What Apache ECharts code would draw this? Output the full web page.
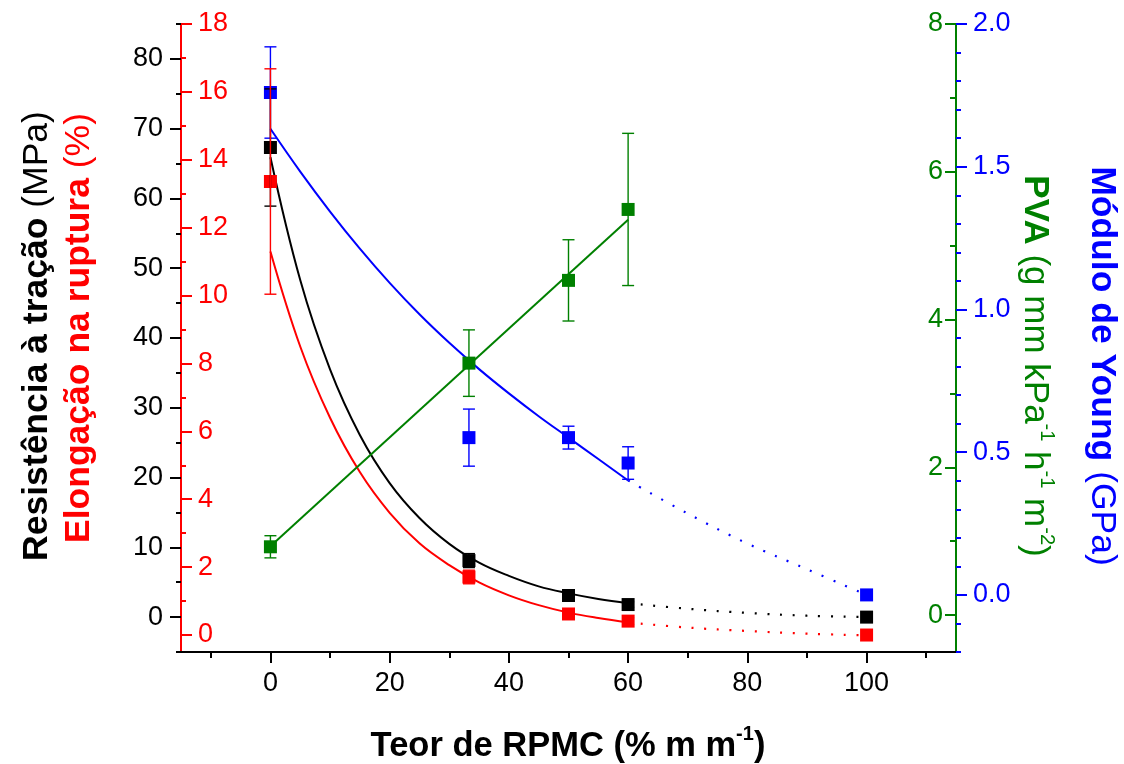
<!DOCTYPE html>
<html><head><meta charset="utf-8">
<script src="https://cdn.jsdelivr.net/npm/echarts@6/dist/echarts.min.js"></script>
<style>html,body{margin:0;padding:0;background:#fff}#c{width:1124px;height:764px}</style>
</head><body><div id="c"></div>
<script>
// ---- data ----
const xPts = [0, 33.3, 50, 60, 100];
const tensile = [67.3, 8.1, 3.1, 1.8, 0.0];
const tensileErr = [8.4, 1.0, 0.5, 0.4, 0];
const elong = [13.36, 1.71, 0.62, 0.41, 0.0];
const elongErr = [3.32, 0.2, 0.1, 0.1, 0];
const young = [1.76, 0.551, 0.551, 0.462, 0.0];
const youngErr = [0.16, 0.10, 0.04, 0.057, 0];
const pvaX = [0, 33.3, 50, 60];
const pva = [0.924, 3.41, 4.53, 5.49];
const pvaErr = [0.15, 0.45, 0.55, 1.03];
// fitted curves
const fitX = [0, 5, 10, 15, 20, 25, 30, 35, 40, 45, 50, 55, 60];
const tensileFit = [65.9, 48.3, 35.5, 26.1, 19.2, 14.2, 10.5, 7.8, 5.9, 4.4, 3.4, 2.6, 2.0];
const elongFit = [11.3, 8.5, 6.4, 4.8, 3.6, 2.7, 2.06, 1.55, 1.17, 0.88, 0.66, 0.50, 0.37];
const youngFit = [1.633, 1.483, 1.343, 1.213, 1.093, 0.983, 0.883, 0.791, 0.706, 0.626, 0.551, 0.476, 0.401];
const pvaFitX = [0, 60];
const pvaFit = [0.93, 5.35];
// dotted extrapolations
const dotX = [60, 70, 80, 90, 100];
const tensileDot = [2.0, 1.2, 0.6, 0.2, 0.0];
const elongDot = [0.37, 0.22, 0.12, 0.04, -0.01];
const youngDot = [0.401, 0.285, 0.18, 0.09, 0.0];
// ticks
const xMajor = [0, 20, 40, 60, 80, 100];
const xMinor = [-10, 10, 30, 50, 70, 90, 110];
const tMajor = [0, 10, 20, 30, 40, 50, 60, 70, 80];
const tMinor = [-5, 5, 15, 25, 35, 45, 55, 65, 75, 85];
const eMajor = [0, 2, 4, 6, 8, 10, 12, 14, 16, 18];
const eMinor = [1, 3, 5, 7, 9, 11, 13, 15, 17];
const pMajor = [0, 2, 4, 6, 8];
const pMinor = [1, 3, 5, 7];
const yMajor = [0, 0.5, 1.0, 1.5, 2.0];
const yMinor = [-0.2, -0.1, 0.1, 0.2, 0.3, 0.4, 0.6, 0.7, 0.8, 0.9, 1.1, 1.2, 1.3, 1.4, 1.6, 1.7, 1.8, 1.9];

const FF = "'Liberation Sans', Arial, sans-serif";
const BLACK = '#000000', RED = '#ff0000', BLUE = '#0000ff', GREEN = '#008000';
const zip = (a, b) => a.map((v, i) => [v, b[i]]);

function errSeries(xs, ys, es, color, yi, z) {
  return {
    type: 'custom', yAxisIndex: yi, z: z, silent: true, clip: false,
    data: xs.map((x, i) => [x, ys[i], es[i]]).filter(d => d[2] > 0),
    encode: { x: 0, y: 1 },
    renderItem: function (params, api) {
      const x = api.value(0), y = api.value(1), e = api.value(2);
      const top = api.coord([x, y + e]), bot = api.coord([x, y - e]);
      const w = 6, st = { stroke: color, lineWidth: 1.4 };
      return { type: 'group', children: [
        { type: 'line', shape: { x1: top[0], y1: top[1], x2: bot[0], y2: bot[1] }, style: st },
        { type: 'line', shape: { x1: top[0] - w, y1: top[1], x2: top[0] + w, y2: top[1] }, style: st },
        { type: 'line', shape: { x1: bot[0] - w, y1: bot[1], x2: bot[0] + w, y2: bot[1] }, style: st }
      ] };
    }
  };
}
function fitLine(xs, ys, color, yi, dotted) {
  return {
    type: 'line', yAxisIndex: yi, data: zip(xs, ys), showSymbol: false, symbol: 'none',
    smooth: 0.4, z: 2, silent: true,
    lineStyle: { color: color, width: dotted ? 2.2 : 2, type: dotted ? [2, 10.7] : 'solid' }
  };
}
function pts(xs, ys, color, yi) {
  return { type: 'scatter', yAxisIndex: yi, data: zip(xs, ys), symbol: 'rect', symbolSize: 13,
    itemStyle: { color: color, opacity: 1 }, z: 3, silent: true };
}
const tickLab = (c) => ({ color: c, fontSize: 27, fontFamily: FF });
function yAx(o) {
  return Object.assign({
    type: 'value', splitLine: { show: false }, axisLine: { show: false, onZero: false }
  }, o);
}

const option = {
  animation: false,
  backgroundColor: '#ffffff',
  grid: { left: 181, right: 168, top: 24, bottom: 112, containLabel: false },
  xAxis: [
    { type: 'value', min: -15, max: 115, position: 'bottom', splitLine: { show: false },
      axisLine: { show: true, onZero: false, lineStyle: { color: BLACK, width: 2 } },
      axisTick: { show: true, length: 11, lineStyle: { color: BLACK, width: 2 }, customValues: xMajor },
      axisLabel: { customValues: xMajor, margin: 18, color: BLACK, fontSize: 27, fontFamily: FF } },
    { type: 'value', min: -15, max: 115, position: 'bottom', splitLine: { show: false },
      axisLine: { show: false, onZero: false },
      axisTick: { show: true, length: 6, lineStyle: { color: BLACK, width: 2 }, customValues: xMinor },
      axisLabel: { show: false } }
  ],
  yAxis: [
    yAx({ min: -5, max: 85, position: 'left',
      axisTick: { show: true, length: 11, lineStyle: { color: BLACK, width: 2 }, customValues: tMajor },
      axisLabel: Object.assign({ customValues: tMajor, margin: 18 }, tickLab(BLACK)) }),
    yAx({ min: -5, max: 85, position: 'left',
      axisTick: { show: true, length: 5, lineStyle: { color: BLACK, width: 2 }, customValues: tMinor },
      axisLabel: { show: false } }),
    yAx({ min: -0.5, max: 18, position: 'left',
      axisLine: { show: true, onZero: false, lineStyle: { color: RED, width: 2 } },
      axisTick: { show: true, inside: true, length: 11, lineStyle: { color: RED, width: 2 }, customValues: eMajor },
      axisLabel: Object.assign({ customValues: eMajor, inside: true, margin: 17 }, tickLab(RED)) }),
    yAx({ min: -0.5, max: 18, position: 'left',
      axisTick: { show: true, inside: true, length: 5, lineStyle: { color: RED, width: 2 }, customValues: eMinor },
      axisLabel: { show: false } }),
    yAx({ min: -0.5, max: 8, position: 'right',
      axisLine: { show: true, onZero: false, lineStyle: { color: GREEN, width: 2 } },
      axisTick: { show: true, inside: true, length: 11, lineStyle: { color: GREEN, width: 2 }, customValues: pMajor },
      axisLabel: Object.assign({ customValues: pMajor, inside: true, margin: 13 }, tickLab(GREEN)) }),
    yAx({ min: -0.5, max: 8, position: 'right',
      axisTick: { show: true, inside: true, length: 6, lineStyle: { color: GREEN, width: 2 }, customValues: pMinor },
      axisLabel: { show: false } }),
    yAx({ min: -0.2, max: 2.0, position: 'right',
      axisTick: { show: true, length: 11, lineStyle: { color: BLUE, width: 2 }, customValues: yMajor },
      axisLabel: Object.assign({ customValues: yMajor, margin: 17,
        formatter: v => v.toFixed(1) }, tickLab(BLUE)) }),
    yAx({ min: -0.2, max: 2.0, position: 'right',
      axisTick: { show: true, length: 5, lineStyle: { color: BLUE, width: 2 }, customValues: yMinor },
      axisLabel: { show: false } })
  ],
  series: [
    fitLine(fitX, youngFit, BLUE, 6, false),
    fitLine(dotX, youngDot, BLUE, 6, true),
    fitLine(fitX, tensileFit, BLACK, 0, false),
    fitLine(dotX, tensileDot, BLACK, 0, true),
    fitLine(fitX, elongFit, RED, 2, false),
    fitLine(dotX, elongDot, RED, 2, true),
    fitLine(pvaFitX, pvaFit, GREEN, 4, false),
    errSeries(xPts, young, youngErr, BLUE, 6, 4),
    errSeries(xPts, tensile, tensileErr, BLACK, 0, 4),
    errSeries(pvaX, pva, pvaErr, GREEN, 4, 4),
    pts(xPts, young, BLUE, 6),
    pts(xPts, tensile, BLACK, 0),
    pts(xPts, elong, RED, 2),
    pts(pvaX, pva, GREEN, 4),
    errSeries(xPts, elong, elongErr, RED, 2, 5)
  ],
  graphic: [
    { type: 'text', x: 37, y: 336, rotation: Math.PI / 2, silent: true,
      style: { text: '{b|Resistência à tração }{n|(MPa)}', align: 'center', verticalAlign: 'middle',
        textAlign: 'center', textVerticalAlign: 'middle',
        rich: { b: { fontSize: 35.5, fontWeight: 'bold', fontFamily: FF, fill: BLACK, color: BLACK },
                n: { fontSize: 35.5, fontFamily: FF, fill: BLACK, color: BLACK } } } },
    { type: 'text', x: 79, y: 328, rotation: Math.PI / 2, silent: true,
      style: { text: '{b|Elongação na ruptura }{n|(%)}', align: 'center', verticalAlign: 'middle',
        textAlign: 'center', textVerticalAlign: 'middle',
        rich: { b: { fontSize: 35.5, fontWeight: 'bold', fontFamily: FF, fill: RED, color: RED },
                n: { fontSize: 35.5, fontFamily: FF, fill: RED, color: RED } } } },
    { type: 'text', x: 1102, y: 366, rotation: -Math.PI / 2, silent: true,
      style: { text: '{b|Módulo de Young }{n|(GPa)}', align: 'center', verticalAlign: 'middle',
        textAlign: 'center', textVerticalAlign: 'middle',
        rich: { b: { fontSize: 35.5, fontWeight: 'bold', fontFamily: FF, fill: BLUE, color: BLUE },
                n: { fontSize: 35.5, fontFamily: FF, fill: BLUE, color: BLUE } } } },
    { type: 'text', x: 1035, y: 366, rotation: -Math.PI / 2, silent: true,
      style: { text: '{b|PVA}{n| (g mm kPa}{s|-1}{n| h}{s|-1}{n| m}{s|-2}{n|)}', align: 'center', verticalAlign: 'middle',
        textAlign: 'center', textVerticalAlign: 'middle',
        rich: { b: { fontSize: 35, fontWeight: 'bold', fontFamily: FF, fill: GREEN, color: GREEN, lineHeight: 44 },
                n: { fontSize: 35, fontFamily: FF, fill: GREEN, color: GREEN, lineHeight: 44 },
                s: { fontSize: 20, fontFamily: FF, fill: GREEN, color: GREEN, verticalAlign: 'top' } } } },
    { type: 'text', x: 568, y: 746, silent: true,
      style: { text: '{b|Teor de RPMC (% m m}{s|-1}{b|)}', align: 'center', verticalAlign: 'middle',
        textAlign: 'center', textVerticalAlign: 'middle',
        rich: { b: { fontSize: 34.5, fontWeight: 'bold', fontFamily: FF, fill: BLACK, color: BLACK, lineHeight: 44 },
                s: { fontSize: 20, fontWeight: 'bold', fontFamily: FF, fill: BLACK, color: BLACK, verticalAlign: 'top' } } } }
  ]
};
const chart = echarts.init(document.getElementById('c'), null, { renderer: 'canvas' });
chart.setOption(option);
</script>
</body></html>
